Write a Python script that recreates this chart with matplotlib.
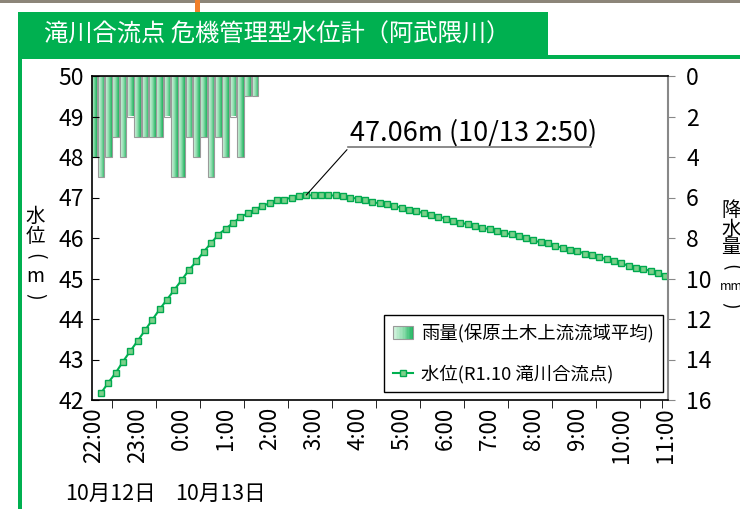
import numpy as np
import matplotlib
matplotlib.use('Agg')
import matplotlib.pyplot as plt
from matplotlib.patches import Rectangle
from matplotlib.lines import Line2D
from matplotlib.legend_handler import HandlerBase
from matplotlib.colors import LinearSegmentedColormap

plt.rcParams['font.family'] = ['Noto Sans CJK JP', 'DejaVu Sans']

W, H = 740, 509

# steps of 10 minutes counted from 10/12 22:00
rain_step = np.arange(0, 23)
rain_mm = [4, 5, 4, 3, 4, 2, 3, 3, 3, 3, 2, 5, 5, 3, 4, 3, 5, 3, 4, 2, 4, 1, 1]

level_step = np.arange(1, 79)
level_m = [42.17, 42.43, 42.67, 42.95, 43.21, 43.46, 43.72, 43.98, 44.24, 44.48,
           44.72, 44.96, 45.21, 45.42, 45.66, 45.87, 46.08, 46.23, 46.37, 46.51,
           46.61, 46.70, 46.79, 46.86, 46.93, 46.95, 47.00, 47.04, 47.06, 47.05,
           47.05, 47.05, 47.05, 47.03, 47.00, 46.97, 46.94, 46.88,
           46.86, 46.84, 46.78, 46.75, 46.70, 46.67, 46.61, 46.58, 46.53, 46.48,
           46.43, 46.38, 46.34, 46.30, 46.25, 46.22, 46.17, 46.13, 46.09, 46.04,
           45.99, 45.94, 45.89, 45.87, 45.80, 45.76, 45.71, 45.68, 45.61, 45.57,
           45.52, 45.48, 45.42, 45.38, 45.31, 45.27, 45.24, 45.18, 45.14, 45.07]

hour_labels = ['22:00', '23:00', '0:00', '1:00', '2:00', '3:00', '4:00',
               '5:00', '6:00', '7:00', '8:00', '9:00', '10:00', '11:00']
date_labels = ['10月12日', '10月13日']

title = '滝川合流点 危機管理型水位計（阿武隈川）'
rain_name = '雨量(保原土木上流流域平均)'
level_name = '水位(R1.10 滝川合流点)'

green = '#00B050'
rain_cmap = LinearSegmentedColormap.from_list('rain', ['#DDF5E5', '#8FDDAE', '#1DB45E'])


def px(x, y):
    # pixel (from top-left) to figure fraction
    return x / W, 1 - y / H


def vertical_label(x, y, parts, sizes, step):
    # stack characters top-down, brackets turned into arcs
    for i, (p, s) in enumerate(zip(parts, sizes)):
        rot = -90 if p in '()' else 0
        fig.text(*px(x, y + i * step), p, fontsize=s, ha='center', va='center', rotation=rot)


class GradHandler(HandlerBase):
    def create_artists(self, legend, orig_handle, xdescent, ydescent, width, height, fontsize, trans):
        arts = []
        n = 14
        for k in range(n):
            arts.append(Rectangle((-xdescent + width * k / n, -ydescent), width / n, height,
                                  facecolor=rain_cmap((k + 0.5) / n), edgecolor='none', transform=trans))
        arts.append(Rectangle((-xdescent, -ydescent), width, height, fill=False,
                              edgecolor='#999999', lw=0.8, transform=trans))
        return arts


fig = plt.figure(figsize=(W / 100, H / 100), dpi=100)

# page decoration: photo strip, orange mark, green frame and title banner
fig.patches.append(Rectangle(px(0, 3), 1, 3 / H, transform=fig.transFigure, facecolor='#8c8579', edgecolor='none'))
fig.patches.append(Rectangle(px(195, 12), 5 / W, 12 / H, transform=fig.transFigure, facecolor='#F07F2A', edgecolor='none'))
fig.patches.append(Rectangle(px(18, 56), 530 / W, 44 / H, transform=fig.transFigure, facecolor=green, edgecolor='none'))
fig.patches.append(Rectangle(px(18, 59), 1, 4 / H, transform=fig.transFigure, facecolor=green, edgecolor='none'))
fig.patches.append(Rectangle(px(18, 509), 4 / W, 455 / H, transform=fig.transFigure, facecolor=green, edgecolor='none'))
fig.text(*px(44, 35), title, color='white', fontsize=17.5, va='center', ha='left')

l, t = px(92, 76)
r, b = px(668, 400)
ax = fig.add_axes([l, b, r - l, t - b])
ax2 = ax.twinx()
ax.set_zorder(2)
ax2.set_zorder(1)
ax.patch.set_visible(False)

# rain bars with a left-to-right gradient
bw = 0.9
grad = np.linspace(0, 1, 32).reshape(1, -1)
for s, v in zip(rain_step, rain_mm):
    ax2.imshow(grad, cmap=rain_cmap, aspect='auto', extent=(s - bw / 2, s + bw / 2, 0, v),
               interpolation='bilinear', zorder=1)
ax2.bar(rain_step, rain_mm, width=bw, fill=False, edgecolor='#9a9a9a', lw=0.8, zorder=2)
ax2.set_ylim(16, 0)
ax2.set_yticks(np.arange(0, 17, 2))

# water level
ax.plot(level_step, level_m, color=green, lw=1.5, marker='s', markersize=5,
        markerfacecolor='#7CD08A', markeredgecolor='#00A94F', markeredgewidth=1)
ax.set_ylim(42, 50)
ax.set_yticks(np.arange(42, 51, 1))

xmin, xmax = -0.23, 78.35
ax.set_xlim(xmin, xmax)
ax2.set_xlim(xmin, xmax)
ax.set_xticks(np.arange(0, 79, 6))
ax.set_xticklabels(hour_labels, rotation=90, fontsize=16)
ax.set_xticks(list(np.arange(2.5, 78, 6)) + [77.5], minor=True)
ax.tick_params(axis='x', which='major', length=0, pad=5)
ax.tick_params(axis='x', which='minor', length=6, direction='out', color='black')
ax.tick_params(axis='y', direction='in', length=5, labelsize=16.5, pad=6)
ax2.tick_params(axis='y', direction='out', length=5, color='#888888', labelsize=16.5, pad=8)

for sp in ['left', 'bottom', 'top']:
    ax.spines[sp].set_color('black')
    ax.spines[sp].set_linewidth(1.2)
ax.spines['right'].set_color('#888888')
ax.spines['right'].set_linewidth(1.5)
for sp in ax2.spines.values():
    sp.set_visible(False)

# peak annotation
k = int(np.argmax(level_m))
peak = level_m[k]
mins = 22 * 60 + level_step[k] * 10
peak_text = f'{peak:.2f}m (10/13 {(mins // 60) % 24}:{mins % 60:02d})'
tx, ty = 34.7, 48.25
ax.annotate(peak_text, xy=(level_step[k], peak), xytext=(tx + 0.2, ty), textcoords='data',
            ha='left', va='bottom', fontsize=19.5,
            arrowprops=dict(arrowstyle='-', color='black', lw=0.8, shrinkA=0, shrinkB=0, relpos=(0, 0)))
ax.plot([tx, 67.9], [ty, ty], color='#777777', lw=1.2, clip_on=False)

# legend
rain_handle = Rectangle((0, 0), 1, 1)
level_handle = Line2D([], [], color=green, lw=1.5, marker='s', markersize=5,
                      markerfacecolor='#7CD08A', markeredgecolor='#00A94F')
leg = ax.legend([rain_handle, level_handle], [rain_name, level_name],
                handler_map={rain_handle: GradHandler()},
                loc='lower right', bbox_to_anchor=(0.992, 0.024), borderaxespad=0,
                fontsize=13.2, fancybox=False, framealpha=1, edgecolor='black',
                handlelength=1.1, handletextpad=0.45, labelspacing=1.15, borderpad=0.5)
leg.get_frame().set_linewidth(1.0)

# axis titles and dates
vertical_label(35, 216, ['水', '位', '(', 'm', ')'], [14] * 5, 20)
vertical_label(731, 210, ['降', '水', '量', '(', 'mm', ')'], [14, 14, 14, 14, 9, 14], 19)
fig.text(*px(65, 494), date_labels[0], fontsize=15.5, ha='left', va='center')
fig.text(*px(175, 494), date_labels[1], fontsize=15.5, ha='left', va='center')

fig.savefig('out.png', dpi=100)
